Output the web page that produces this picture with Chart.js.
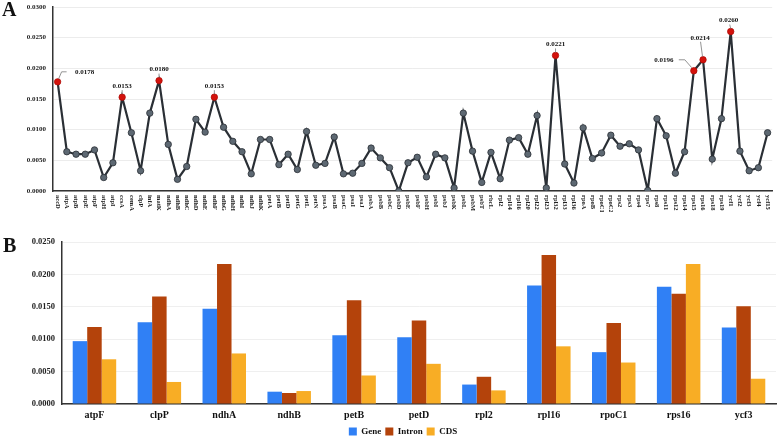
<!DOCTYPE html>
<html>
<head>
<meta charset="utf-8">
<script src="https://cdn.jsdelivr.net/npm/chart.js@4"></script>
<style>
  html, body { margin: 0; padding: 0; background: #fff; }
  #lineA { position: absolute; left: 0; top: 0; }
  #barB { position: absolute; left: 0; top: 212px; }
</style>
</head>
<body>
<canvas id="lineA" width="777" height="212"></canvas>
<canvas id="barB" width="777" height="225"></canvas>
<script>
// panel A: CDS nucleotide diversity per gene
const genes = ["accD","atpA","atpB","atpE","atpF","atpH","atpI","ccsA","cemA","clpP","infA","matK",
  "ndhA","ndhB","ndhC","ndhD","ndhE","ndhF","ndhG","ndhH","ndhI","ndhJ","ndhK",
  "petA","petB","petD","petG","petL","petN","psaA","psaB","psaC","psaI","psaJ",
  "psbA","psbB","psbC","psbD","psbE","psbF","psbH","psbI","psbJ","psbK","psbL","psbM","psbT",
  "rbcL","rpl2","rpl14","rpl16","rpl20","rpl22","rpl23","rpl32","rpl33","rpl36",
  "rpoA","rpoB","rpoC1","rpoC2","rps2","rps3","rps4","rps7","rps8","rps11","rps12","rps14",
  "rps15","rps16","rps18","rps19","ycf1","ycf2","ycf3","ycf4","ycf15"];
const piValues = [0.0178,0.0064,0.0060,0.0060,0.0067,0.0022,0.0046,0.0153,0.0095,0.0033,0.0127,0.0180,
  0.0076,0.0019,0.0040,0.0117,0.0096,0.0153,0.0104,0.0081,0.0064,0.0028,0.0084,
  0.0084,0.0043,0.0060,0.0035,0.0097,0.0042,0.0045,0.0088,0.0028,0.0029,0.0045,
  0.0070,0.0054,0.0038,0.0000,0.0046,0.0055,0.0023,0.0060,0.0054,0.0005,0.0127,0.0065,0.0014,
  0.0063,0.0020,0.0083,0.0087,0.0060,0.0123,0.0005,0.0221,0.0044,0.0013,
  0.0103,0.0053,0.0062,0.0091,0.0073,0.0077,0.0067,0.0001,0.0118,0.0090,0.0029,0.0064,
  0.0196,0.0214,0.0052,0.0118,0.0260,0.0065,0.0033,0.0038,0.0095];
const peakGenes = ["accD","ccsA","matK","ndhF","rpl32","rps15","rps16","ycf1"];
const yTicksA = [0, 0.005, 0.010, 0.015, 0.020, 0.025, 0.030];

// panel B: intron-containing genes
const barGenes = ["atpF","clpP","ndhA","ndhB","petB","petD","rpl2","rpl16","rpoC1","rps16","ycf3"];
const geneVals = [0.0097,0.0126,0.0147,0.0019,0.0106,0.0103,0.0030,0.0183,0.0080,0.0181,0.0118];
const intronVals = [0.0119,0.0166,0.0216,0.0017,0.0160,0.0129,0.0042,0.0230,0.0125,0.0170,0.0151];
const cdsVals = [0.0069,0.0034,0.0078,0.0020,0.0044,0.0062,0.0021,0.0089,0.0064,0.0216,0.0039];
const seriesNames = ["Gene","Intron","CDS"];

const serif = '"Liberation Serif", "Times New Roman", serif';

// label placement for the highlighted peaks (offsets from the point, px)
const peakStyle = {
  accD:  { dx: 27, dy: -10, lead: [[1,-3],[4,-10],[9,-10]] },
  ccsA:  { dx: 0, dy: -11, lead: [[0,-3],[0,-7]] },
  matK:  { dx: 0, dy: -11, lead: [[0,-3],[0,-7]] },
  ndhF:  { dx: 0, dy: -11, lead: [[0,-3],[0,-7]] },
  rpl32: { dx: 0, dy: -11, lead: [[0,-3],[0,-7]] },
  rps15: { dx: -30, dy: -11, lead: [[-2,-3],[-9,-11],[-15,-11]] },
  rps16: { dx: -3, dy: -22, lead: [[-0.5,-3],[-2.5,-18]] },
  ycf1:  { dx: -2, dy: -11, lead: [[0,-3],[-1,-7]] }
};

const panelAExtras = {
  id: 'panelAExtras',
  afterDraw(chart) {
    const ctx = chart.ctx, xs = chart.scales.x, ys = chart.scales.y;
    ctx.save();
    ctx.fillStyle = '#111';
    ctx.font = 'bold 20px ' + serif;
    ctx.textAlign = 'left';
    ctx.textBaseline = 'alphabetic';
    ctx.fillText('A', 2, 16);

    // gene names, rotated to read top-to-bottom
    ctx.font = 'bold 6.5px ' + serif;
    ctx.fillStyle = '#222';
    ctx.textBaseline = 'middle';
    genes.forEach((g, i) => {
      ctx.save();
      ctx.translate(xs.getPixelForTick(i), ys.bottom + 4);
      ctx.rotate(Math.PI / 2);
      ctx.fillText(g, 0, 0);
      ctx.restore();
    });

    // peak labels
    ctx.font = 'bold 7px ' + serif;
    ctx.textAlign = 'center';
    peakGenes.forEach(g => {
      const i = genes.indexOf(g);
      const px = xs.getPixelForValue(i), py = ys.getPixelForValue(piValues[i]);
      const st = peakStyle[g];
      ctx.strokeStyle = '#777';
      ctx.lineWidth = 0.8;
      ctx.beginPath();
      st.lead.forEach((p, k) => {
        if (k === 0) ctx.moveTo(px + p[0], py + p[1]); else ctx.lineTo(px + p[0], py + p[1]);
      });
      ctx.stroke();
      ctx.fillStyle = '#111';
      ctx.fillText(piValues[i].toFixed(4), px + st.dx, py + st.dy);
    });
    ctx.restore();
  }
};

new Chart(document.getElementById('lineA'), {
  type: 'line',
  data: {
    labels: genes,
    datasets: [{
      data: piValues,
      borderColor: '#2a2f35',
      borderWidth: 2.2,
      tension: 0,
      pointRadius: 3.2,
      pointBackgroundColor: genes.map(g => peakGenes.includes(g) ? '#d4120c' : '#5d6872'),
      pointBorderColor: genes.map(g => peakGenes.includes(g) ? '#b00c08' : '#2a2f35'),
      pointBorderWidth: 0.8
    }]
  },
  options: {
    responsive: false,
    animation: false,
    layout: { padding: { left: 25, right: 1, top: 7, bottom: 0 } },
    plugins: { legend: { display: false }, tooltip: { enabled: false } },
    scales: {
      x: {
        offset: true,
        grid: { display: false, drawTicks: false },
        border: { color: '#333', width: 1.5 },
        ticks: { display: false },
        afterFit(s) { s.height = 21; }
      },
      y: {
        min: 0, max: 0.03,
        afterBuildTicks(s) { s.ticks = yTicksA.map(v => ({ value: v })); },
        ticks: {
          callback: v => v.toFixed(4),
          font: { family: serif, size: 7, weight: 'bold' },
          color: '#222',
          padding: 7
        },
        grid: { color: '#ececec', drawTicks: false },
        border: { color: '#333', width: 1.5 },
        afterFit(s) { s.width = 28; s.paddingTop = 0; s.paddingBottom = 0; }
      }
    }
  },
  plugins: [panelAExtras]
});

const panelBExtras = {
  id: 'panelBExtras',
  afterDraw(chart) {
    const ctx = chart.ctx;
    ctx.save();
    ctx.fillStyle = '#111';
    ctx.font = 'bold 20px ' + serif;
    ctx.textAlign = 'left';
    ctx.textBaseline = 'alphabetic';
    ctx.fillText('B', 3, 40);
    ctx.restore();
  }
};

const barColors = ['#3080f5', '#b4430b', '#f8ad25'];
new Chart(document.getElementById('barB'), {
  type: 'bar',
  data: {
    labels: barGenes,
    datasets: [geneVals, intronVals, cdsVals].map((d, k) => ({
      label: seriesNames[k],
      data: d,
      backgroundColor: barColors[k],
      categoryPercentage: 0.67,
      barPercentage: 1.0
    }))
  },
  options: {
    responsive: false,
    animation: false,
    layout: { padding: { left: 30, right: 1, top: 30, bottom: -9 } },
    plugins: {
      tooltip: { enabled: false },
      legend: {
        position: 'bottom',
        labels: {
          font: { family: serif, size: 9, weight: 'bold' },
          color: '#111',
          boxWidth: 8,
          boxHeight: 8,
          padding: 4
        }
      }
    },
    scales: {
      x: {
        grid: { display: false, drawTicks: false },
        border: { color: '#333', width: 1.5 },
        ticks: { font: { family: serif, size: 10, weight: 'bold' }, color: '#111', padding: 5 },
        afterFit(s) { s.height = 19; }
      },
      y: {
        min: 0, max: 0.025,
        ticks: {
          stepSize: 0.005,
          callback: v => v.toFixed(4),
          font: { family: serif, size: 8.5, weight: 'bold' },
          color: '#222',
          padding: 7
        },
        grid: { color: '#efefef', drawTicks: false },
        border: { color: '#333', width: 1.5 },
        afterFit(s) { s.width = 32; }
      }
    }
  },
  plugins: [panelBExtras]
});
</script>
</body>
</html>
